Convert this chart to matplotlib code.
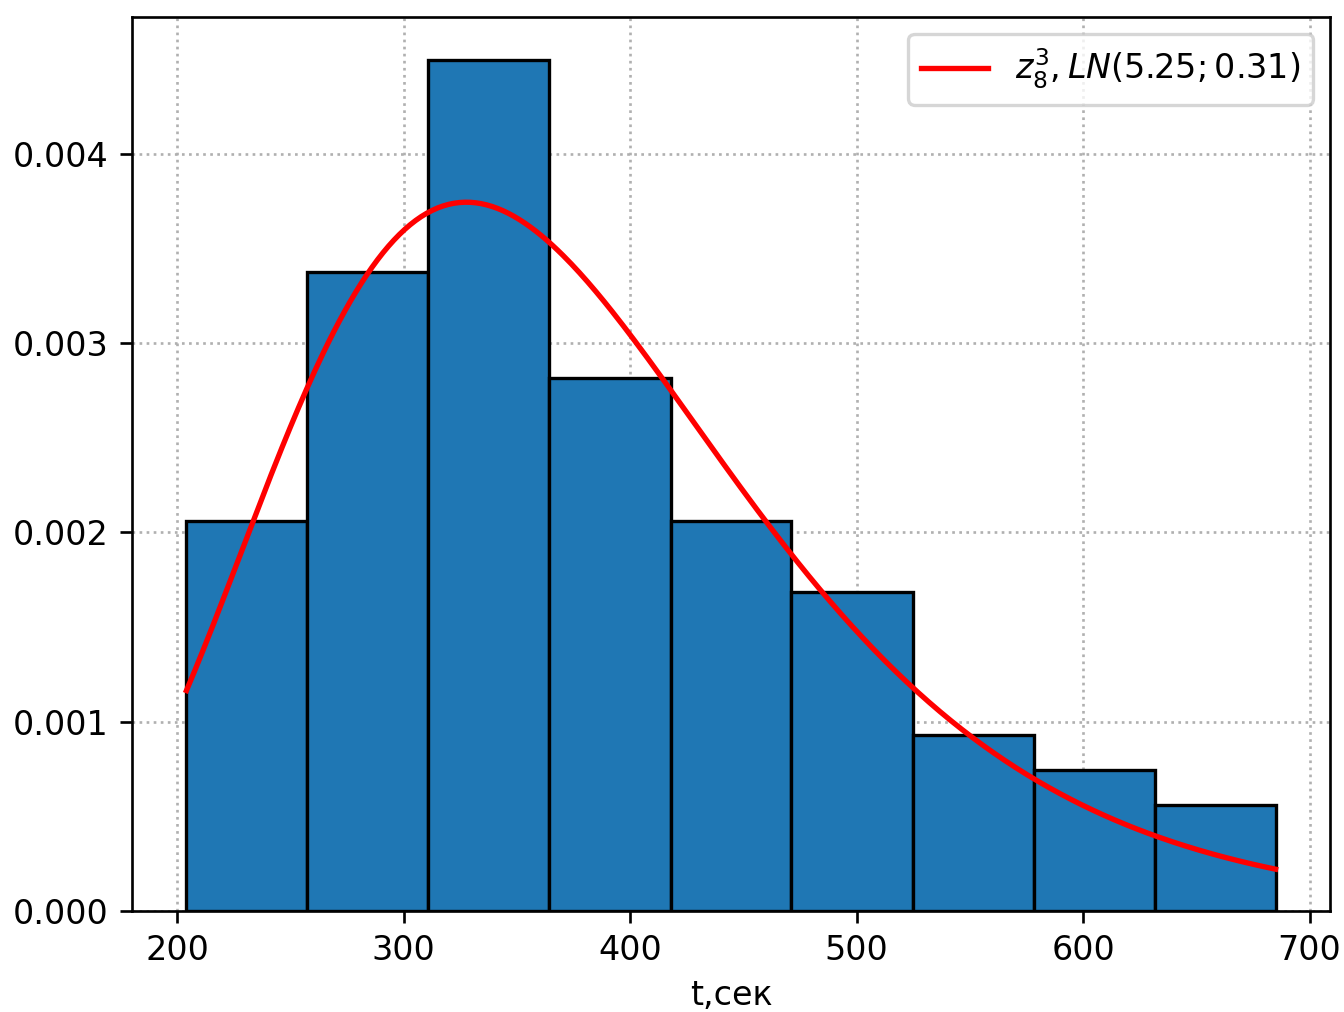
import numpy as np
import matplotlib
matplotlib.use("Agg")
import matplotlib.pyplot as plt

# bin edges (sec) and histogram densities
edges = [204.0, 257.4, 310.9, 364.3, 417.8, 471.2, 524.7, 578.1, 631.6, 685.0]
density = [0.002058, 0.003376, 0.004497, 0.002815, 0.002058,
           0.001683, 0.000931, 0.000746, 0.000561]

# fitted lognormal curve parameters (shape / log-scale as seen in picture)
ln_sigma = 0.31
ln_mu = 5.888
label = r"$z_8^3, LN(5.25; 0.31)$"

DPI = 240
fig = plt.figure(figsize=(1344 / DPI, 1012 / DPI), dpi=DPI)
ax = fig.add_axes([0.0982, 0.0998, 0.8914, 0.8834])

edges = np.array(edges)
ax.bar(edges[:-1], density, width=np.diff(edges), align='edge',
       color='#1f77b4', edgecolor='black', linewidth=1.0, zorder=2)

x = np.linspace(edges[0], edges[-1], 400)
pdf = np.exp(-(np.log(x) - ln_mu) ** 2 / (2 * ln_sigma ** 2)) / (x * ln_sigma * np.sqrt(2 * np.pi))
ax.plot(x, pdf, color='red', linewidth=1.6, label=label, zorder=3)

ax.grid(True, linestyle=':', color='#b0b0b0', zorder=0)
ax.set_axisbelow(True)
ax.set_xlabel("t,сек", labelpad=3.5)
ax.legend(loc='upper right')

fig.savefig("out.png", dpi=DPI)
